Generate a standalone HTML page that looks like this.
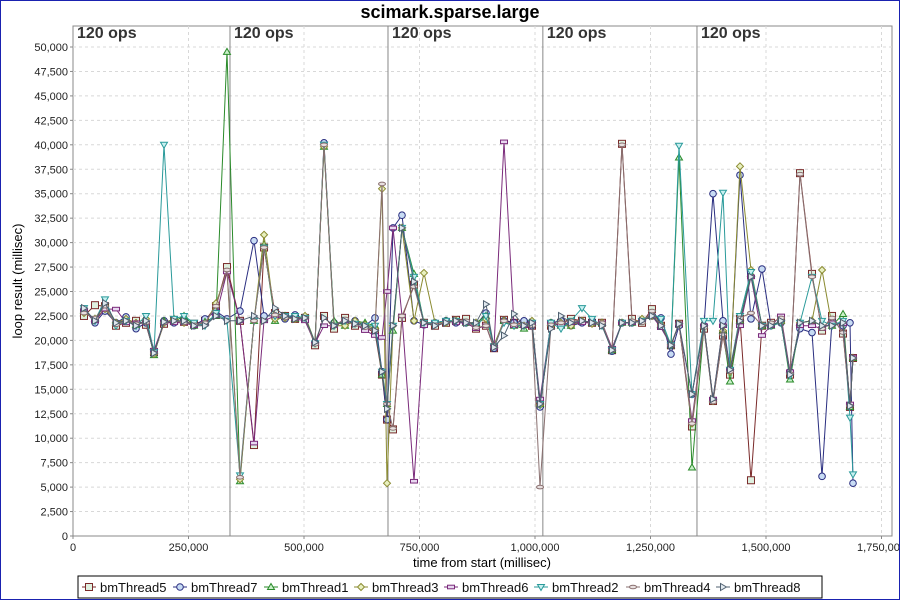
<!DOCTYPE html>
<html><head><meta charset="utf-8"><style>
html,body{margin:0;padding:0;background:#fff}
#wrap{position:relative;width:898px;height:598px;border:1px solid #1a22b0;overflow:hidden}
svg text{font-family:"Liberation Sans","DejaVu Sans",sans-serif}
</style></head><body>
<div id="wrap">
<svg id="chart" width="898" height="598" viewBox="1 1 898 598" xmlns="http://www.w3.org/2000/svg">
<text x="450" y="18" text-anchor="middle" font-size="18" font-weight="bold">scimark.sparse.large</text>
<rect x="73" y="26" width="819" height="510" fill="#fff" stroke="#888"/>
<g id="grid"></g><g id="phases"></g><g id="axes"></g><g id="series"></g>
<text x="482" y="567" text-anchor="middle" font-size="13">time from start (millisec)</text>
<text transform="translate(22,281) rotate(-90)" text-anchor="middle" font-size="13">loop result (millisec)</text>
<rect x="78" y="576" width="744" height="22" fill="#fff" stroke="#000"/>
<g id="legend"></g>
</svg></div>
<script>
const times=[23.8,47.6,69.3,93.1,114.7,136.4,158,175.3,197,218.6,240.3,261.9,285.7,309.5,333.3,361.5,391.8,413.5,437.3,458.9,480.6,502.2,523.9,543.3,565,588.8,610.4,632.1,653.7,668.9,679.7,692.6,712.1,738.1,759.7,783.5,807.4,829,850.7,872.3,893.9,911.3,932.9,954.6,976.2,993.5,1010.9,1034.6,1056.3,1077.9,1101.7,1123.4,1145,1166.7,1188.3,1209.9,1231.6,1253.2,1272.7,1294.3,1311.7,1339.8,1365.8,1385.3,1406.9,1422.1,1443.7,1467.5,1491.3,1510.8,1532.5,1552,1573.6,1599.6,1621.3,1642.9,1666.7,1681.8,1688.3];
const names=["bmThread5","bmThread7","bmThread1","bmThread3","bmThread6","bmThread2","bmThread4","bmThread8"];
const s5=[22.5,23.6,23.5,21.5,21.8,22,21.6,18.8,21.7,22,21.9,21.7,22,23.5,27.5,22,9.3,29.5,22.8,22.5,22.2,22.3,19.5,22.5,21.2,22.3,21.5,21.3,20.8,16.5,11.9,10.9,22.3,25.7,21.8,21.5,21.8,22.1,22.2,21.2,21.5,19.2,22.1,21.8,21.7,21.5,13.5,21.5,21.8,22.2,22,21.8,21.8,19,40.1,22.2,21.8,23.2,21.5,19.5,21.7,11.2,21.2,13.8,20.5,16.5,22.2,5.7,21.5,21.8,22.3,16.5,37.1,26.8,21,22.5,20.7,13.2,18.2];
const s7=[23.2,21.8,23,21.8,22.4,21.2,21.8,18.6,22,21.8,22,21.5,22.2,23,22.2,23,30.2,22.5,22.5,22.2,22.6,22.2,19.8,40.2,21.8,21.8,22,21.5,22.3,16.8,11.9,31.5,32.8,22,21.6,21.8,22,21.8,21.8,21.6,22.8,19.2,22,21.8,22,21.5,13.2,21.8,22,21.5,21.8,22,21.7,18.9,21.8,21.8,22,22.5,22.3,18.6,21.5,14.5,21.5,35,22,17,36.9,22.2,27.3,21.5,21.8,16.8,21.2,20.8,6.1,22,21.5,21.8,5.4];
const s1=[23,22.2,23.8,21.8,22,21.6,22,18.5,22,21.9,22.5,21.5,21.9,22.5,49.5,5.6,22,29.8,22,22.5,22.2,22.5,19.8,39.8,22,21.5,22,21.8,21.5,16.5,13.5,21,31.5,26.8,21.8,21.8,22,22,21.8,21.8,22.5,19.5,22,21.5,21.2,21.8,13.5,21.8,21.5,21.5,22,21.8,21.8,19,21.8,21.8,22,22.5,21.6,19.5,38.7,7,21.5,14,21,15.8,22,26.8,21.5,21.5,22,16,21.8,22,21.5,21.5,22.7,13.2,18.2];
const s3=[22.8,22.2,23.2,21.8,22.2,21.8,22.2,18.6,21.8,22.2,21.8,21.6,21.6,23.8,27,5.8,22,30.8,22.2,22.3,22.2,22.5,19.7,39.8,21.5,21.5,22,21.6,21.2,35.5,5.4,21.5,31.5,22,26.9,21.8,21.8,22,21.8,21.8,22.2,19.5,22,21.5,21.5,22,13.4,21.5,21.8,21.5,22,21.7,21.8,19,21.8,21.8,22.2,22.5,21.6,19.6,21.7,11.5,21.5,13.8,21,16.8,37.8,27.2,21.5,21.5,21.8,16.6,21.8,22,27.2,21.5,21.8,13.5,18.2];
const s6=[23,22,23.2,23.2,21.8,21.8,21.8,19,21.8,21.8,21.8,21.5,21.8,22.5,27,22,9.5,22,22.5,22.5,22.2,22,19.7,21.5,21.5,22,21.7,21,20.5,20.3,25,31.5,22.5,5.6,21.5,21.8,22,21.8,21.8,21.2,21.5,19.3,40.3,21.5,21.5,21.8,14,21.8,21.5,21.8,21.8,21.8,21.8,19.2,21.8,21.8,22,22.5,21.3,19.5,21.7,11.8,21.5,14,21.5,17,21.5,26.5,20.5,21.5,22.5,16.8,21.5,21.5,21.2,21.8,21.7,13.5,18.3];
const s2=[23.3,22,24.2,21.5,22,21.5,22.5,18.8,40,22.2,22.5,21.8,21.5,22.8,22,6.2,22,29.5,22.5,22.5,22.5,22.3,19.7,40,21.5,22,21.7,21.5,21.5,16.8,13.5,21.5,31.5,26.5,21.8,21.8,22,22,21.8,21.5,22.5,19.4,21.8,21.5,21.5,21.8,13.5,21.8,21.2,22,23.3,22.2,21.5,19,21.8,21.8,22,22.8,22.2,19.5,39.9,14.5,22,22,35.1,17,22.5,27,21.5,21.5,21.8,16.4,21.8,26.5,22,21.5,22,12.1,6.3];
const s4=[22.8,22.3,23.5,21.6,22,21.7,21.8,18.7,21.8,22,21.8,21.6,21.8,23.5,27.2,6,22,29.5,22.6,22.3,22.2,22.3,19.6,40,21.5,22.2,21.6,21.3,21,36,13.5,11,22.5,25.5,21.8,21.6,21.8,22,22,21.3,21.5,19.3,22,21.6,21.6,21.5,5,21.6,21.8,22,22,21.8,21.8,19,40,22,21.8,23,21.5,19.5,21.7,11.5,21.3,13.7,20.6,16.8,22.3,22.8,21.5,21.8,22.3,16.6,37,26.5,21.2,22.3,20.8,13.3,18.2];
const s8=[23.3,22,23.8,21.8,22,21.5,22,18.7,21.9,22,22,21.5,21.5,22.5,22,22,22.5,22,23.3,22.5,22.2,22.3,19.8,22.3,21.5,22,21.7,21.5,21,16.8,13,21.5,31.5,26,21.8,21.5,21.8,22,21.8,21.8,23.7,19.3,20.5,22.7,21.5,21.8,13.5,21.2,22.5,21.8,22,21.8,21.5,19,21.8,21.8,22,22.5,21.5,19.5,21.7,14.5,21.5,14,21.5,17,22,26.5,21.5,21.5,22,16.5,21.8,22,21.5,21.5,21.8,13.3,18.2];
const seriesVals=[s5,s7,s1,s3,s6,s2,s4,s8];
const yTicks=[0,2.5,5,7.5,10,12.5,15,17.5,20,22.5,25,27.5,30,32.5,35,37.5,40,42.5,45,47.5,50];
const xTicks=[0,250,500,750,1000,1250,1500,1750];
const phaseTimes=[339.8,681.8,1017,1350.6];
const phaseLabels=["120 ops","120 ops","120 ops","120 ops","120 ops"];
const colors=["#7a2a2a","#2a2e80","#2a8a2a","#8a8a30","#7a2a7a","#2a9a9a","#8a7070","#506070"];
const fills=["#dff0e0","#c8dcf4","#c8f0c8","#e8f0c0","#e8d8f0","#c8f0f0","#e8e0e0","#e0e8ee"];
const shapes=["square","circle","tri","diamond","rect","tridown","ellipse","triright"];
const NS="http://www.w3.org/2000/svg";
const L=73,R=892,T=26,B=536;
function xS(t){return L+t/1750*(881.5-L);}
function yS(v){return B-v/50*(B-47);}
function mk(tag,attrs,parent){const e=document.createElementNS(NS,tag);for(const k in attrs)e.setAttribute(k,attrs[k]);parent.appendChild(e);return e;}
function fmt(n){return Math.round(n*1000).toLocaleString('en-US');}
const grid=document.getElementById('grid'),axes=document.getElementById('axes');
yTicks.forEach(v=>{const y=yS(v);
 if(v>0){const g=mk('line',{x1:L,x2:R,y1:y,y2:y,stroke:'#d8d8d8','stroke-dasharray':'3,3'},grid);
 
 }
 const t=mk('text',{x:L-5,y:y+4,'text-anchor':'end','font-size':'11',fill:'#222'},axes);t.textContent=fmt(v);
 
 
 mk('line',{x1:L-3,x2:L,y1:y,y2:y,stroke:'#888'},axes);});
xTicks.forEach(v=>{const x=xS(v);
 if(v>0){const g=mk('line',{x1:x,x2:x,y1:T,y2:B,stroke:'#d8d8d8','stroke-dasharray':'3,3'},grid);
 
 }
 const t=mk('text',{x:x,y:B+15,'text-anchor':'middle','font-size':'11',fill:'#222'},axes);t.textContent=fmt(v);
 
 
 mk('line',{x1:x,x2:x,y1:B,y2:B+3,stroke:'#888'},axes);});
const ph=document.getElementById('phases');
[0].concat(phaseTimes).forEach((pt,i)=>{const x=xS(pt);
 if(i>0){const l=mk('line',{x1:x,x2:x,y1:T,y2:B,stroke:'#888'},ph);
 
 }
 const t=mk('text',{x:x+4,y:T+12,'font-size':'16','font-weight':'bold',fill:'#333'},ph);t.textContent=phaseLabels[i];
 
 });
function marker(shape,x,y,c,f,parent){let e;
 if(shape==='square')e=mk('rect',{x:x-3.5,y:y-3.5,width:7,height:7},parent);
 else if(shape==='rect')e=mk('rect',{x:x-3.5,y:y-1.8,width:7,height:3.6},parent);
 else if(shape==='circle')e=mk('circle',{cx:x,cy:y,r:3.3},parent);
 else if(shape==='ellipse')e=mk('ellipse',{cx:x,cy:y,rx:3.5,ry:1.8},parent);
 else if(shape==='tri')e=mk('polygon',{points:`${x},${y-3.5} ${x+3.5},${y+2.5} ${x-3.5},${y+2.5}`},parent);
 else if(shape==='tridown')e=mk('polygon',{points:`${x},${y+3.5} ${x+3.5},${y-2.5} ${x-3.5},${y-2.5}`},parent);
 else if(shape==='triright')e=mk('polygon',{points:`${x+3.5},${y} ${x-2.5},${y-3.5} ${x-2.5},${y+3.5}`},parent);
 else e=mk('polygon',{points:`${x},${y-3.5} ${x+3.5},${y} ${x},${y+3.5} ${x-3.5},${y}`},parent);
 e.setAttribute('fill',f);e.setAttribute('stroke',c);return e;}
const sg=document.getElementById('series');
seriesVals.forEach((vals,si)=>{const g=mk('g',{},sg);
 
 
 const pts=vals.map((v,i)=>xS(times[i]).toFixed(1)+','+yS(v).toFixed(1)).join(' ');
 const pl=mk('polyline',{points:pts,fill:'none',stroke:colors[si],'stroke-width':'1'},g);
 
 
 vals.forEach((v,i)=>{const m=marker(shapes[si],xS(times[i]),yS(v),colors[si],fills[si],g);
 
 });});
const lg=document.getElementById('legend');
const legX=[82,173,264,354,444,534,626,716];
names.forEach((n,i)=>{const x=legX[i];const g=mk('g',{},lg);
 
 
 mk('line',{x1:x,x2:x+14,y1:587,y2:587,stroke:colors[i]},g);
 marker(shapes[i],x+7,587,colors[i],fills[i],g);
 const t=mk('text',{x:x+18,y:592,'font-size':'13',fill:'#111'},g);t.textContent=n;});
</script>
</body></html>
